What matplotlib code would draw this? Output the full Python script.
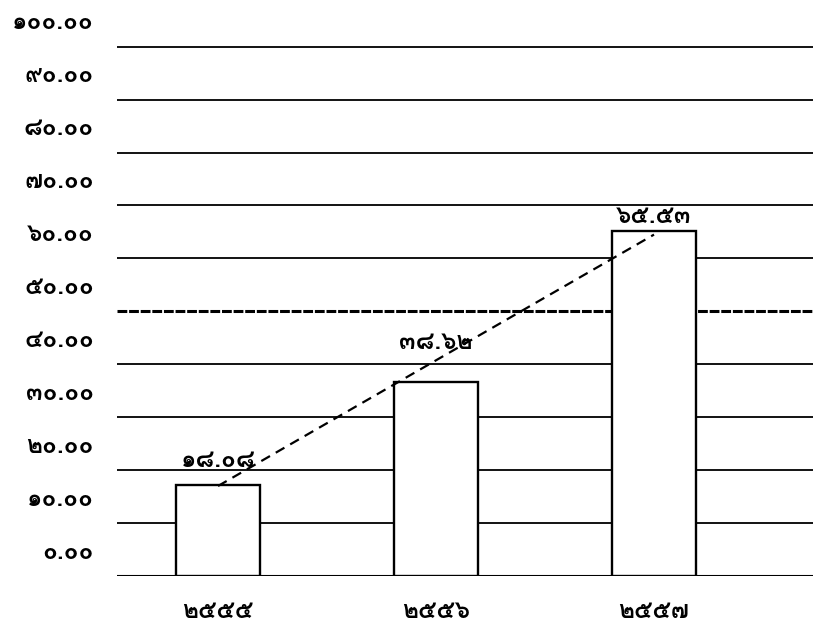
import matplotlib
matplotlib.use("Agg")
import matplotlib.pyplot as plt
import numpy as np

plt.rcParams['font.family'] = ['Loma', 'Noto Sans Thai Looped', 'DejaVu Sans']

# ---- data ----
years = ['๒๕๕๕', '๒๕๕๖', '๒๕๕๗']
bar_heights = [17.2, 36.7, 65.1]           # bar tops as drawn
value_labels = ['๑๘.๐๘', '๓๘.๖๒', '๖๕.๕๓']  # printed values
label_y = [21.9, 44.2, 67.9]               # where printed values sit
trend_values = [17.0, 64.5]                # dashed trend line ends (first, last year)
target_value = 50.0                        # dashed horizontal line
grid_values = [0, 10, 20, 30, 40, 50, 60, 70, 80, 90, 100]
y_tick_labels = ['๐.๐๐', '๑๐.๐๐', '๒๐.๐๐', '๓๐.๐๐', '๔๐.๐๐', '๕๐.๐๐',
                 '๖๐.๐๐', '๗๐.๐๐', '๘๐.๐๐', '๙๐.๐๐', '๑๐๐.๐๐']
label_shift = 4.5   # printed y labels sit above their gridlines

W, H = 813, 625
fig = plt.figure(figsize=(W / 100, H / 100), dpi=100)
left_px, bottom_px = 117, 576
ax = fig.add_axes([left_px / W, (H - bottom_px) / H, 1 - left_px / W, bottom_px / H])

px_per_unit = (576 - 46.7) / 100.0
ax.set_ylim(0, bottom_px / px_per_unit)
xspan = 218.0
ax.set_xlim(-(218 - left_px) / xspan, 2 + (W - 654) / xspan)

for s in ax.spines.values():
    s.set_visible(False)
ax.set_xticks([])
ax.set_yticks([])

x = np.arange(len(years))
FS = 17.5
FW = 'bold'

# gridlines
for g in grid_values:
    if g == target_value:
        continue
    ax.axhline(g, color='black', lw=1.3 if g else 1.5, zorder=1)
ax.axhline(target_value, color='black', lw=2.2, dashes=(3.2, 0.6), zorder=1)

# bars
ax.bar(x, bar_heights, width=84 / xspan, color='white', edgecolor='black',
       linewidth=1.7, zorder=2)

# trend line
ax.plot([x[0], x[-1]], trend_values, color='black', lw=1.6,
        dashes=(4.5, 3), zorder=3)

# value labels
for xi, t, ly in zip(x, value_labels, label_y):
    ax.text(xi, ly, t, ha='center', va='center', fontsize=FS, fontweight=FW,
            zorder=4)

# y labels
for g, t in zip(grid_values, y_tick_labels):
    ax.text(-(218 - 94) / xspan, g + label_shift, t, ha='right', va='center',
            fontsize=FS, fontweight=FW, clip_on=False)

# x labels
for xi, t in zip(x, years):
    ax.text(xi, -(611 - 576) / px_per_unit, t, ha='center', va='center',
            fontsize=FS, fontweight=FW, clip_on=False)

fig.savefig("out.png", dpi=100)
